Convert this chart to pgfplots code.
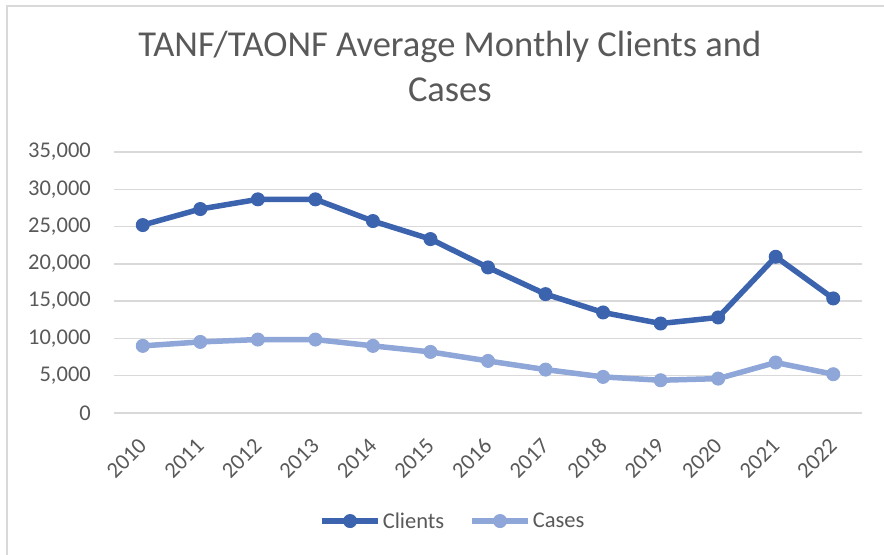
\documentclass[border=0pt]{standalone}
\usepackage{fontspec}
\setmainfont{Carlito}
\usepackage{pgfplots}
\pgfplotsset{compat=1.18}
\definecolor{clientc}{HTML}{3C63AE}
\definecolor{casec}{HTML}{8FA6D9}
\definecolor{gridc}{HTML}{D9D9D9}
\definecolor{txtc}{HTML}{595959}
\begin{document}
\begin{tikzpicture}[x=1bp,y=1bp]
\path[use as bounding box] (0,0) rectangle (884,555);
\draw[gridc, line width=2bp] (7,0) -- (7,549) -- (884,549);
\begin{axis}[
  at={(114bp,142bp)}, anchor=south west,
  scale only axis, width=748bp, height=261bp,
  xmin=-0.5, xmax=12.5, ymin=0, ymax=35000,
  xtick={0,...,12},
  xticklabels={2010,2011,2012,2013,2014,2015,2016,2017,2018,2019,2020,2021,2022},
  ytick={0,5000,...,35000},
  ymajorgrids, grid style={gridc, line width=1.5bp},
  axis line style={draw=none},
  major tick length=0pt,
  tick label style={font=\fontsize{22.5bp}{27bp}\selectfont, text=txtc},
  yticklabel style={anchor=east, inner sep=0pt, xshift=-23bp},
  xticklabel style={xshift=0bp, yshift=-29bp, rotate=45, anchor=east, inner sep=0pt},
  /pgf/number format/.cd, 1000 sep={,}, assume math mode=true,
  /pgfplots/.cd,
  scaled y ticks=false,
  title={TANF/TAONF Average Monthly Clients and\\Cases},
  title style={at={(axis description cs:0.449,1.306)}, anchor=center, align=center,
    font=\fontsize{36.5bp}{45bp}\selectfont, text=txtc},
  legend columns=2,
  legend style={at={(axis description cs:0.453,-0.414)}, anchor=center, draw=none,
    font=\fontsize{22.5bp}{27bp}\selectfont, text=txtc,
    /tikz/every even column/.append style={column sep=23bp}},
  legend image code/.code={
    \draw[#1, mark repeat=2, mark phase=2] plot coordinates {(0bp,0bp) (28bp,0bp) (56bp,0bp)};
  },
  clip=false,
]
\addplot[clientc, line width=5.5bp, mark=*, mark size=6.5bp, mark options={solid, line width=1bp}] coordinates {
(0,25200) (1,27350) (2,28650) (3,28650) (4,25740) (5,23320) (6,19520) (7,15940) (8,13480) (9,12000) (10,12810) (11,20950) (12,15360)};
\addlegendentry{Clients}
\addplot[casec, line width=5.5bp, mark=*, mark size=6.5bp, mark options={solid, line width=1bp}] coordinates {
(0,9000) (1,9530) (2,9850) (3,9850) (4,9000) (5,8190) (6,6980) (7,5820) (8,4840) (9,4390) (10,4610) (11,6770) (12,5200)};
\addlegendentry{Cases}
\end{axis}
\end{tikzpicture}
\end{document}
